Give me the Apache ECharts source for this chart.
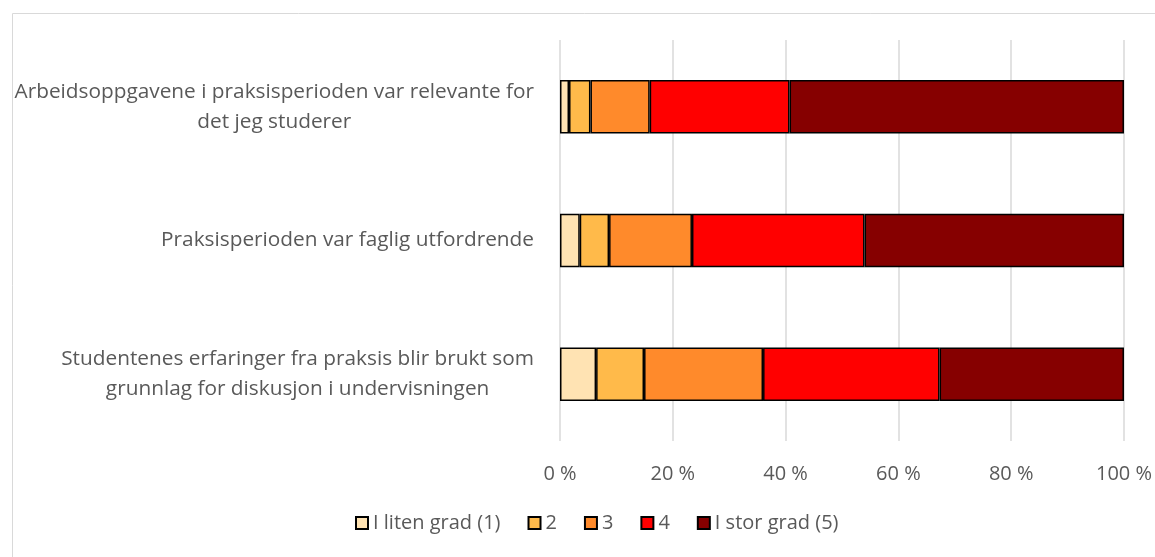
<!DOCTYPE html>
<html>
<head>
<meta charset="utf-8">
<script src="https://cdn.jsdelivr.net/npm/echarts@6/dist/echarts.min.js"></script>
<style>
  html, body { margin: 0; padding: 0; background: #fff; }
  #chart { width: 1155px; height: 557px; }
</style>
</head>
<body>
<div id="chart"></div>
<script>
// categories, top to bottom
var categories = [
  "Arbeidsoppgavene i praksisperioden var relevante for\ndet jeg studerer",
  "Praksisperioden var faglig utfordrende",
  "Studentenes erfaringer fra praksis blir brukt som\ngrunnlag for diskusjon i undervisningen"
];
var seriesNames = ["I liten grad (1)", "2", "3", "4", "I stor grad (5)"];
// percent shares per category
var grad1 = [1.6, 3.5, 6.4];
var grad2 = [3.8, 5.2, 8.5];
var grad3 = [10.5, 14.7, 21.1];
var grad4 = [24.8, 30.6, 31.3];
var grad5 = [59.3, 46.0, 32.7];
var colors = ["#FFE3B3", "#FFBA4A", "#FF8A2B", "#FF0000", "#860000"];

var chart = echarts.init(document.getElementById("chart"));
var font = "'Open Sans', sans-serif";

var values = [grad1, grad2, grad3, grad4, grad5];
var series = seriesNames.map(function (name, i) {
  return {
    name: name,
    type: "bar",
    stack: "total",
    barWidth: "40%",
    data: values[i],
    itemStyle: { color: colors[i], borderColor: "#000", borderWidth: 1.5 },
    emphasis: { disabled: true }
  };
});

chart.setOption({
  animation: false,
  textStyle: { fontFamily: font },
  graphic: [{
    type: "rect",
    left: 10, top: 11,
    shape: { width: 1160, height: 560 },
    style: { fill: "none", stroke: "#d9d9d9", lineWidth: 1 },
    silent: true
  }],
  grid: { left: 560, right: 31, top: 40, height: 401 },
  legend: {
    bottom: 19,
    left: 350,
    itemWidth: 12,
    itemHeight: 12,
    itemGap: 27,
    icon: "rect",
    textStyle: { color: "#595959", fontSize: 20, fontFamily: font },
    data: seriesNames
  },
  xAxis: {
    type: "value",
    min: 0, max: 100, interval: 20,
    axisLine: { show: false },
    axisTick: { show: false },
    splitLine: { lineStyle: { color: "#d9d9d9", width: 1.5 } },
    axisLabel: { color: "#595959", fontSize: 20, margin: 23, formatter: "{value} %" }
  },
  yAxis: {
    type: "category",
    inverse: true,
    data: categories,
    axisLine: { show: false },
    axisTick: { show: false },
    axisLabel: {
      color: "#595959",
      fontSize: 20.8,
      margin: 26,
      lineHeight: 30,
      formatter: function (v) {
        return v.split("\n").map(function (s) { return "{c|" + s + "}"; }).join("\n");
      },
      rich: { c: { align: "center", color: "#595959", fontSize: 20.8, lineHeight: 30, fontFamily: font } }
    }
  },
  series: series
});
</script>
</body>
</html>
